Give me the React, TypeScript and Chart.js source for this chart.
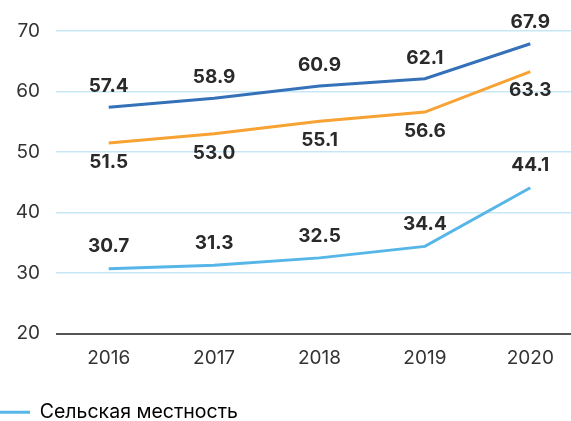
import React, { useEffect, useRef } from "react";
import { Chart, registerables } from "chart.js";

Chart.register(...registerables);

const years = ["2016", "2017", "2018", "2019", "2020"];
const urbanValues = [57.4, 58.9, 60.9, 62.1, 67.9];
const totalValues = [51.5, 53.0, 55.1, 56.6, 63.3];
const ruralValues = [30.7, 31.3, 32.5, 34.4, 44.1];
const seriesNames = ["Городская местность", "Всего", "Сельская местность"];
const yMin = 20;
const yMax = 70;
const yStep = 10;

const FONT = "Inter, 'DejaVu Sans', sans-serif";
const DARK_BLUE = "#3571b8";
const ORANGE = "#f7a233";
const LIGHT_BLUE = "#56b6e8";

const valueLabels = {
  id: "valueLabels",
  afterDatasetsDraw(chart: any) {
    const ctx = chart.ctx;
    chart.data.datasets.forEach((ds: any, i: number) => {
      const meta = chart.getDatasetMeta(i);
      meta.data.forEach((pt: any, j: number) => {
        ctx.save();
        ctx.font = `bold 19px ${FONT}`;
        ctx.fillStyle = "#2a2a2a";
        ctx.textAlign = "center";
        ctx.textBaseline = "middle";
        ctx.fillText(Number(ds.data[j]).toFixed(1), pt.x, pt.y + ds.labelOffset);
        ctx.restore();
      });
    });
  },
};

export default function App() {
  const ref = useRef<HTMLCanvasElement | null>(null);

  useEffect(() => {
    if (!ref.current) return;
    const chart = new Chart(ref.current, {
      type: "line",
      data: {
        labels: years,
        datasets: [
          {
            label: seriesNames[0],
            data: urbanValues,
            borderColor: DARK_BLUE,
            backgroundColor: DARK_BLUE,
            borderWidth: 3,
            pointRadius: 0,
            tension: 0,
            labelOffset: -21,
          } as any,
          {
            label: seriesNames[1],
            data: totalValues,
            borderColor: ORANGE,
            backgroundColor: ORANGE,
            borderWidth: 3,
            pointRadius: 0,
            tension: 0,
            labelOffset: 19,
          } as any,
          {
            label: seriesNames[2],
            data: ruralValues,
            borderColor: LIGHT_BLUE,
            backgroundColor: LIGHT_BLUE,
            borderWidth: 3,
            pointRadius: 0,
            tension: 0,
            labelOffset: -22,
          } as any,
        ],
      },
      options: {
        responsive: false,
        animation: false,
        layout: { padding: { top: 31, left: 0, right: 0, bottom: 0 } },
        plugins: {
          tooltip: { enabled: false },
          legend: {
            position: "bottom",
            align: "start",
            labels: {
              boxWidth: 30,
              boxHeight: 3,
              padding: 0,
              color: "#333333",
              font: { family: FONT, size: 19.5 },
              generateLabels: () => [
                {
                  text: seriesNames[2],
                  fillStyle: LIGHT_BLUE,
                  strokeStyle: LIGHT_BLUE,
                  lineWidth: 0,
                  hidden: false,
                  datasetIndex: 2,
                } as any,
              ],
            },
          },
        },
        scales: {
          x: {
            offset: true,
            grid: { display: false },
            border: { display: false },
            ticks: {
              color: "#333333",
              padding: 5,
              font: { family: FONT, size: 19 },
              maxRotation: 0,
            },
            afterFit: (s: any) => {
              s.height = 69;
            },
          },
          y: {
            min: yMin,
            max: yMax,
            border: { display: false },
            grid: {
              drawTicks: false,
              color: (c: any) => (c.tick && c.tick.value === yMin ? "#555555" : "#c8e7f6"),
              lineWidth: (c: any) => (c.tick && c.tick.value === yMin ? 2 : 1.5),
            },
            ticks: {
              stepSize: yStep,
              padding: 16,
              color: "#333333",
              font: { family: FONT, size: 19 },
            },
            afterFit: (s: any) => {
              s.width = 56;
            },
          },
        },
      },
      plugins: [valueLabels],
    });
    return () => chart.destroy();
  }, []);

  return (
    <div
      style={{
        position: "fixed",
        left: 0,
        top: 0,
        width: 571,
        height: 421,
        overflow: "hidden",
        background: "#ffffff",
      }}
    >
      <canvas ref={ref} width={583} height={432} style={{ display: "block" }} />
    </div>
  );
}
